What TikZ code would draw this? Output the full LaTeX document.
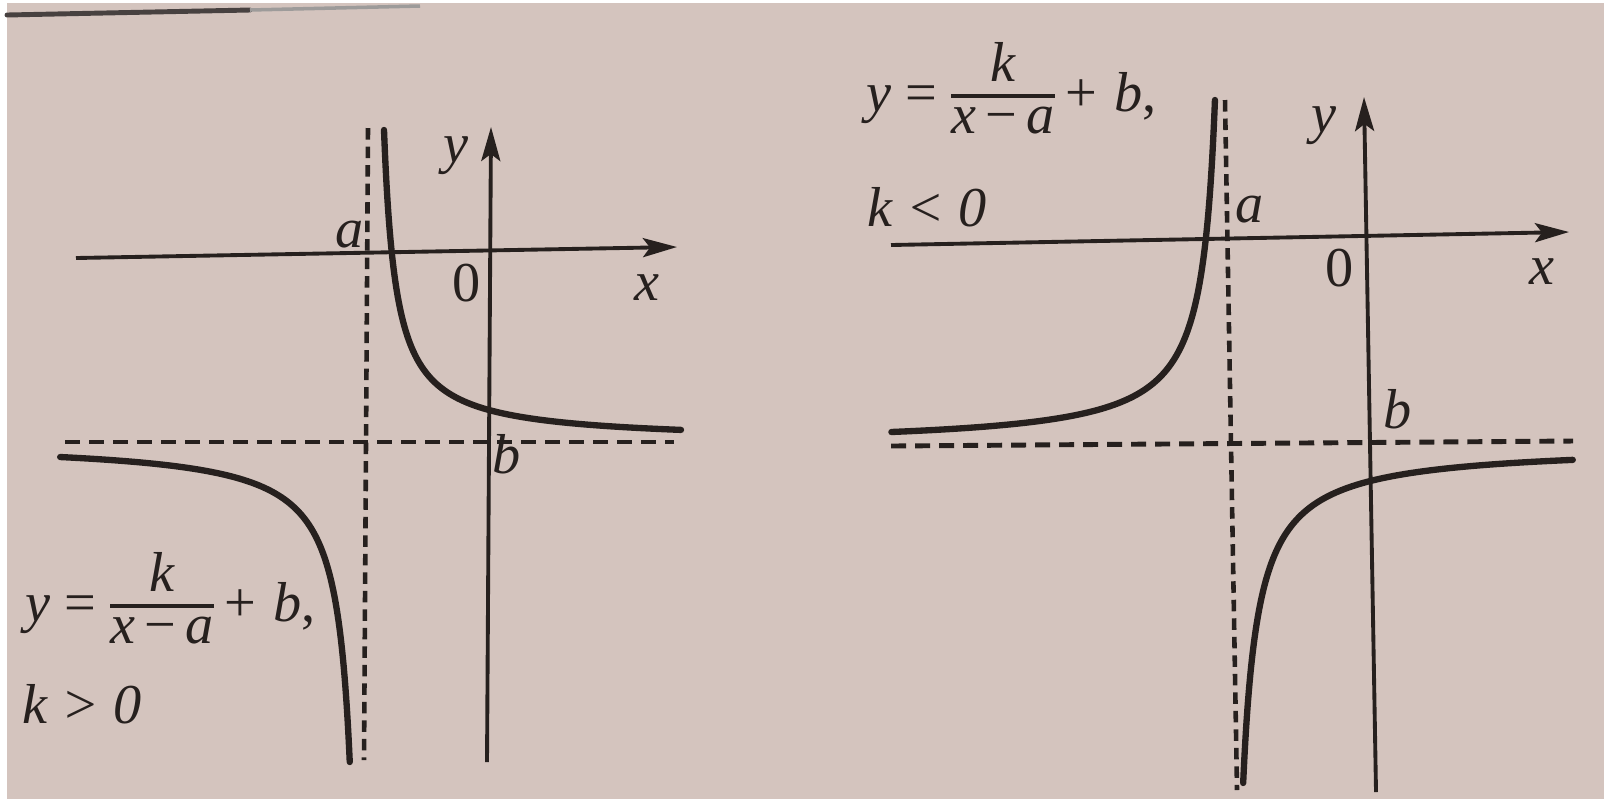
\documentclass[tikz,border=0pt]{standalone}
\usepackage{fontspec}
\setmainfont{Liberation Serif}
\usetikzlibrary{arrows.meta}
\definecolor{paper}{RGB}{212,196,190}
\definecolor{ink}{RGB}{38,32,30}
\tikzset{
  axis/.style={draw=ink, line width=1.1pt, -{Stealth[length=0.34cm,width=0.19cm,inset=0.07cm]}},
  asymh/.style={draw=ink, line width=1.4pt, dash pattern=on 0.15cm off 0.09cm},
  asymv/.style={draw=ink, line width=1.3pt, dash pattern=on 0.115cm off 0.07cm},
  curve/.style={draw=ink, line width=1.8pt, line cap=round},
  lbl/.style={text=ink, inner sep=0pt, font=\fontsize{16}{19}\selectfont\itshape},
  num/.style={text=ink, inner sep=0pt, font=\fontsize{16}{19}\selectfont},
  eqn/.style={text=ink, inner sep=0pt, font=\fontsize{16}{19}\selectfont},
}
\newcommand\eqtext{$\textit{y}\mkern4mu\mbox{=}\mkern3mu
  {\mbox{\rule[-2.5pt]{0pt}{2.5pt}\textit{k}}\above 1.1pt\mbox{\rule{0pt}{9pt}\textit{x}\,−\,\textit{a}}}%
  \mkern2mu\mbox{+}\mkern5mu\textit{b}\mbox{,}$}
\begin{document}
\begin{tikzpicture}[x=0.01cm,y=-0.01cm]
\useasboundingbox (0,0) rectangle (1604,799);
\fill[white] (0,0) rectangle (1604,799);
\fill[paper] (7,3) rectangle (1604,799);
% edge of the page in the photo
\coordinate (T1) at (7,15); \coordinate (T2) at (250,10); \coordinate (T3) at (420,6);
\draw[line width=1.4pt, draw=ink!85, line cap=round] (T1) -- (T2);
\draw[line width=1pt, draw=ink!45] (T2) -- (T3);

% ---------------- left graph (k>0)
\coordinate (Lxs) at (76,258);  \coordinate (Lxe) at (677,247);
\coordinate (Lys) at (487,762); \coordinate (Lye) at (491,127);
\coordinate (Lvs) at (368,128); \coordinate (Lve) at (364,760);
\coordinate (Lhs) at (65,442);  \coordinate (Lhe) at (674,442);
\draw[asymv] (Lvs) -- (Lve);
\draw[asymh] (Lhs) -- (Lhe);
\draw[axis] (Lxs) -- (Lxe);
\draw[axis] (Lys) -- (Lye);
\draw[curve] plot[domain=2.4849:5.7333, samples=90, variable=\t] ({372+exp(\t)}, {442-3744/exp(\t)});
\draw[curve] plot[domain=2.6568:5.717, samples=90, variable=\t] ({364-exp(\t)}, {442+4560/exp(\t)});
\node[lbl] (La) at (350,235) {a};
\node[lbl] (Ly) at (456,156) {y};
\node[num] (L0) at (467,283) {0};
\node[lbl] (Lx) at (647,288) {x};
\node[lbl] (Lb) at (507,454) {b};
\node[eqn, anchor=base west] (Leq) at (25,621) {\eqtext};
\node[lbl, anchor=base west] (Lk) at (22,723) {k > 0};

% ---------------- right graph (k<0)
\coordinate (Rxs) at (891,245);  \coordinate (Rxe) at (1569,232);
\coordinate (Rys) at (1376,792); \coordinate (Rye) at (1364,97);
\coordinate (Rvs) at (1225,100); \coordinate (Rve) at (1237,790);
\coordinate (Rhs) at (891,446);  \coordinate (Rhe) at (1573,441);
\draw[asymv] (Rvs) -- (Rve);
\draw[asymh] (Rhs) -- (Rhe);
\draw[axis] (Rxs) -- (Rxe);
\draw[axis] (Rys) -- (Rye);
\draw[curve] plot[domain=2.6144:5.8219, samples=90, variable=\t] ({1228.6-exp(\t)}, {446-4726/exp(\t)});
\draw[curve] plot[domain=2.7180:5.8435, samples=90, variable=\t] ({1228+exp(\t)}, {445+5120/exp(\t)});
\node[lbl] (Ra) at (1250,210) {a};
\node[lbl] (Ry) at (1324,126) {y};
\node[num] (R0) at (1340,268) {0};
\node[lbl] (Rx) at (1542,272) {x};
\node[lbl] (Rb) at (1398,409) {b};
\node[eqn, anchor=base west] (Req) at (866,111) {\eqtext};
\node[lbl, anchor=base west] (Rk) at (867,226) {k < 0};
\end{tikzpicture}
\end{document}
